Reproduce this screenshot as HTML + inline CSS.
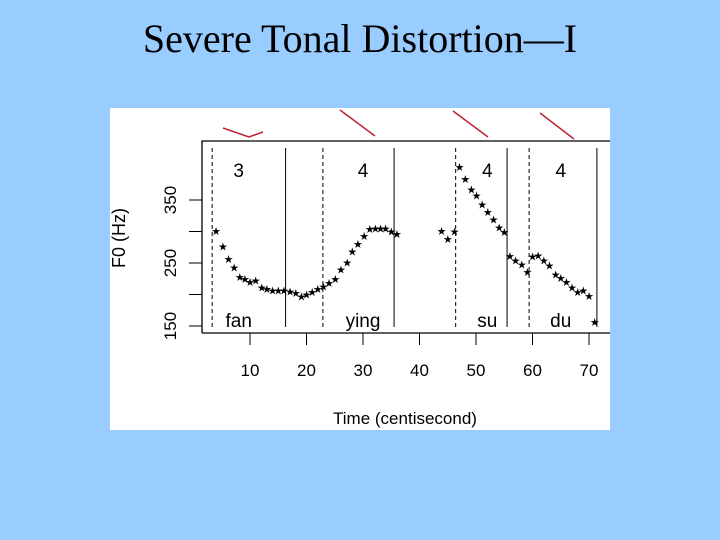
<!DOCTYPE html>
<html><head><meta charset="utf-8"><style>
body{margin:0;width:720px;height:540px;background:#99ccff;overflow:hidden}
svg{position:absolute;left:0;top:0}
</style></head><body>
<svg width="720" height="540" font-family="Liberation Sans, sans-serif">
<text x="360" y="52" text-anchor="middle" font-family="Liberation Serif, serif" font-size="40">Severe Tonal Distortion—I</text>
<rect x="110" y="108" width="500" height="322" fill="#fff"/>
<g id="g"></g>
</svg>
<script>
const times=[4,5.2,6.2,7.2,8.2,9.1,10,11,12.1,13,14,15,16,17.1,18.1,19.1,20,21,22,23,24,25.1,26.1,27.2,28.1,29.1,30.2,31.2,32.2,33.1,34,35,36,43.9,45,46.2,47.1,48.1,49.2,50.1,51.1,52.1,53.1,54.1,55,56,57,58.1,59.1,60,61,62,63,64.1,65,66,67,68,69,70,71];
const f0=[301,276,256,243,228,225,220,222,211,209,206,206,206,205,202,197,200,204,209,213,218,225,240,251,268,280,293,304,305,305,305,300,296,301,288,300,402,383,367,357,343,331,319,306,299,261,254,248,236,260,262,254,246,232,226,220,211,204,206,198,156];
const xTicks=[10,20,30,40,50,60,70];
const yTicks=[150,200,250,300,350];
const yLabels=[150,250,350];
const dashedLines=[3.3,22.9,46.4,59.4];
const solidLines=[16.3,35.5,55.5,71.4];
const tones=["3","4","4","4"];
const toneT=[8,30,52,65];
const syllables=["fan","ying","su","du"];
const sylT=[8,30,52,65];
const X=t=>193.5+5.65*t;
const Y=h=>326-(h-150)*0.63;
const g=document.getElementById('g');
const NS='http://www.w3.org/2000/svg';
function mk(tag,a,txt){const e=document.createElementNS(NS,tag);for(const k in a)e.setAttribute(k,a[k]);if(txt!=null)e.textContent=txt;g.appendChild(e);return e;}
let e;
e=mk('path',{d:'M202 333 V141 H610',fill:'none',stroke:'#000','stroke-width':1.3});


e=mk('line',{x1:202,y1:333,x2:610,y2:333,stroke:'#000','stroke-width':1.3});


xTicks.forEach(t=>{
 e=mk('line',{x1:X(t),y1:333,x2:X(t),y2:345,stroke:'#000'});
 
 
 e=mk('text',{x:X(t),y:376,'text-anchor':'middle','font-size':17},t);
 
 
});
yTicks.forEach(h=>{
 e=mk('line',{x1:189,y1:Y(h),x2:202,y2:Y(h),stroke:'#000'});
 
 
});
yLabels.forEach(h=>{
 e=mk('text',{x:0,y:0,'text-anchor':'middle','font-size':17,transform:`translate(176,${Y(h)}) rotate(-90)`},h);
 
 
});
e=mk('text',{x:0,y:0,'text-anchor':'middle','font-size':18,transform:'translate(125,238) rotate(-90)'},'F0 (Hz)');


e=mk('text',{x:405,y:424,'text-anchor':'middle','font-size':17},'Time (centisecond)');


dashedLines.forEach(t=>{
 e=mk('line',{x1:X(t),y1:148,x2:X(t),y2:327,stroke:'#000','stroke-dasharray':'4,3'});
 
 
});
solidLines.forEach(t=>{
 e=mk('line',{x1:X(t),y1:148,x2:X(t),y2:327,stroke:'#000'});
 
 
});
tones.forEach((s,i)=>{
 e=mk('text',{x:X(toneT[i]),y:177,'text-anchor':'middle','font-size':19},s);
 
 
});
syllables.forEach((s,i)=>{
 e=mk('text',{x:X(sylT[i]),y:327,'text-anchor':'middle','font-size':19},s);
 
 
});
times.forEach((t,i)=>{
 e=mk('text',{x:X(t),y:Y(f0[i])+4,'text-anchor':'middle','font-size':11,'font-family':'DejaVu Sans, sans-serif'},'★');
 
 
});
[['M223 128 L249 137 L263 132'],['M340 110 L375 136'],['M453 111 L488 137'],['M540 113 L574 139']].forEach(p=>{
 e=mk('path',{d:p[0],fill:'none',stroke:'#bb2233','stroke-width':1.5});
 
 
});
</script>
</body></html>
